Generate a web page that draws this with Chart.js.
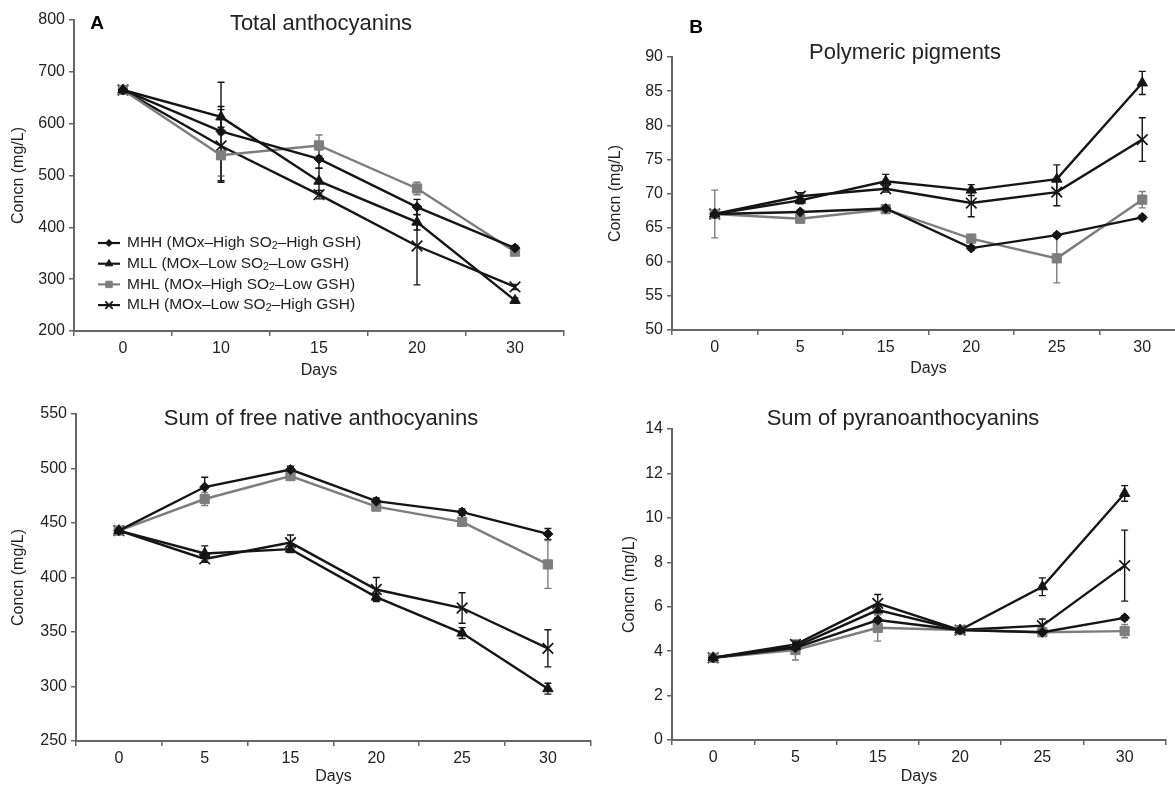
<!DOCTYPE html>
<html>
<head>
<meta charset="utf-8">
<title>Anthocyanins</title>
<script src="https://cdn.jsdelivr.net/npm/chart.js@4.4.1/dist/chart.umd.min.js"></script>
<style>
  html, body { margin: 0; padding: 0; background: #fff; width: 1175px; height: 786px; overflow: hidden; }
  canvas { position: absolute; }
</style>
</head>
<body>
<canvas id="chartA" style="left:0px;top:0px;width:590px;height:390px" width="590" height="390"></canvas>
<canvas id="chartB" style="left:585px;top:0px;width:610px;height:390px" width="610" height="390"></canvas>
<canvas id="chartC" style="left:0px;top:390px;width:600px;height:396px" width="600" height="396"></canvas>
<canvas id="chartD" style="left:585px;top:390px;width:590px;height:396px" width="590" height="396"></canvas>
<script>
// ---------------- data ----------------
const seriesNames = [
  'MHH (MOx–High SO₂–High GSH)',
  'MLL (MOx–Low SO₂–Low GSH)',
  'MHL (MOx–High SO₂–Low GSH)',
  'MLH (MOx–Low SO₂–High GSH)'
];

const daysA = ['0', '10', '15', '20', '30'];
const days = ['0', '5', '15', '20', '25', '30'];

// A - total anthocyanins
const totalMHH = [665, 585, 532, 439, 360];
const totalMLL = [665, 613, 489, 410, 259];
const totalMHL = [665, 539, 558, 475, 353];
const totalMLH = [665, 557, 463, 364, 285];
const totalErrMHH = [8, 95, 18, 15, 5];
const totalErrMLL = [8, 20, 25, 15, 5];
const totalErrMHL = [8, 40, 20, 12, 5];
const totalErrMLH = [8, 70, 8, 75, 5];

// B - polymeric pigments
const polyMHH = [67, 67.3, 67.8, 62.0, 63.9, 66.5];
const polyMLL = [67, 69.0, 71.8, 70.5, 72.1, 86.2];
const polyMHL = [67, 66.3, 67.7, 63.4, 60.5, 69.1];
const polyMLH = [67, 69.6, 70.7, 68.6, 70.2, 77.9];
const polyErrMHH = [0.4, 0.3, 0.3, 0.3, 0.3, 0.3];
const polyErrMLL = [0.4, 0.5, 1.0, 0.8, 2.1, 1.7];
const polyErrMHL = [3.5, 0.3, 0.3, 0.4, 3.6, 1.2];
const polyErrMLH = [0.4, 0.5, 0.5, 2.0, 2.0, 3.2];

// C - sum of free native anthocyanins
const nativeMHH = [443, 483, 499, 470, 460, 440];
const nativeMLL = [443, 422, 426, 382, 349, 298];
const nativeMHL = [443, 472, 493, 465, 451, 412];
const nativeMLH = [443, 417, 432, 389, 372, 335];
const nativeErrMHH = [2, 9, 3, 3, 3, 5];
const nativeErrMLL = [2, 7, 3, 3, 5, 5];
const nativeErrMHL = [2, 6, 3, 3, 4, 22];
const nativeErrMLH = [2, 3, 7, 11, 14, 17];

// D - sum of pyranoanthocyanins
const pyranoMHH = [3.7, 4.15, 5.4, 4.95, 4.85, 5.5];
const pyranoMLL = [3.7, 4.2, 5.85, 4.95, 6.9, 11.1];
const pyranoMHL = [3.7, 4.05, 5.05, 4.95, 4.85, 4.9];
const pyranoMLH = [3.7, 4.3, 6.15, 4.95, 5.15, 7.85];
const pyranoErrMHH = [0.1, 0.1, 0.1, 0.1, 0.1, 0.1];
const pyranoErrMLL = [0.1, 0.15, 0.2, 0.1, 0.4, 0.35];
const pyranoErrMHL = [0.1, 0.45, 0.6, 0.1, 0.1, 0.3];
const pyranoErrMLH = [0.1, 0.15, 0.4, 0.1, 0.3, 1.6];

// ---------------- styles ----------------
const FONT = '"Liberation Sans", Arial, Helvetica, sans-serif';
const TEXT = '#222';
const AXIS = '#666';

const seriesStyles = [
  { color: '#151515', pointStyle: 'rectRot', radius: 5, pointBorderWidth: 1 },
  { color: '#151515', pointStyle: 'triangle', radius: 6, pointBorderWidth: 1 },
  { color: '#7d7d7d', pointStyle: 'rect', radius: 6.5, pointBorderWidth: 1 },
  { color: '#151515', pointStyle: 'crossRot', radius: 7.5, pointBorderWidth: 1.7 }
];

function makeDatasets(valueLists, errorLists) {
  return valueLists.map((vals, i) => {
    const st = seriesStyles[i];
    return {
      label: seriesNames[i],
      data: vals,
      errors: errorLists[i],
      borderColor: st.color,
      backgroundColor: st.color,
      borderWidth: 2.4,
      tension: 0,
      pointStyle: st.pointStyle,
      pointRadius: st.radius,
      pointBackgroundColor: st.color,
      pointBorderColor: st.color,
      pointBorderWidth: st.pointBorderWidth
    };
  });
}

// ---------------- plugins ----------------
const errorBars = {
  id: 'errorBars',
  beforeDatasetsDraw(chart) {
    const ctx = chart.ctx;
    const yScale = chart.scales.y;
    chart.data.datasets.forEach((ds, i) => {
      const meta = chart.getDatasetMeta(i);
      ctx.save();
      ctx.strokeStyle = ds.borderColor;
      ctx.lineWidth = 1.4;
      meta.data.forEach((pt, j) => {
        const e = ds.errors[j];
        if (!e) return;
        const v = ds.data[j];
        const yTop = yScale.getPixelForValue(v + e);
        const yBot = yScale.getPixelForValue(v - e);
        ctx.beginPath();
        ctx.moveTo(pt.x, yTop); ctx.lineTo(pt.x, yBot);
        ctx.moveTo(pt.x - 3.5, yTop); ctx.lineTo(pt.x + 3.5, yTop);
        ctx.moveTo(pt.x - 3.5, yBot); ctx.lineTo(pt.x + 3.5, yBot);
        ctx.stroke();
      });
      ctx.restore();
    });
  }
};

const panelText = {
  id: 'panelText',
  afterDraw(chart, args, opts) {
    const ctx = chart.ctx;
    ctx.save();
    ctx.fillStyle = TEXT;
    ctx.textAlign = 'center';
    ctx.textBaseline = 'middle';
    ctx.font = `22px ${FONT}`;
    ctx.fillText(opts.title, opts.titleX, opts.titleY);
    if (opts.letter) {
      ctx.fillStyle = '#000';
      ctx.font = `bold 19px ${FONT}`;
      ctx.fillText(opts.letter, opts.letterX, opts.letterY);
    }
    ctx.restore();
  }
};

const insetLegend = {
  id: 'insetLegend',
  afterDraw(chart, args, opts) {
    if (!opts.show) return;
    const ctx = chart.ctx;
    chart.data.datasets.forEach((ds, i) => {
      const y = opts.y + i * opts.rowGap;
      ctx.save();
      ctx.strokeStyle = ds.borderColor;
      ctx.lineWidth = 2.2;
      ctx.beginPath();
      ctx.moveTo(opts.x, y);
      ctx.lineTo(opts.x + 22, y);
      ctx.stroke();
      ctx.fillStyle = ds.pointBackgroundColor;
      ctx.strokeStyle = ds.pointBorderColor;
      ctx.lineWidth = ds.pointBorderWidth;
      Chart.helpers.drawPoint(ctx, {
        pointStyle: ds.pointStyle,
        radius: ds.pointRadius * 0.7,
        rotation: 0,
        borderWidth: ds.pointBorderWidth
      }, opts.x + 11, y);
      ctx.fillStyle = TEXT;
      ctx.textAlign = 'left';
      ctx.textBaseline = 'middle';
      let tx = opts.x + 29;
      const parts = ds.label.split('₂');
      parts.forEach((p, k) => {
        ctx.font = `15.5px ${FONT}`;
        ctx.fillText(p, tx, y);
        tx += ctx.measureText(p).width;
        if (k < parts.length - 1) {
          ctx.font = `10.5px ${FONT}`;
          ctx.fillText('2', tx, y + 3);
          tx += ctx.measureText('2').width;
        }
      });
      ctx.restore();
    });
  }
};

// ---------------- charts ----------------
function createPanel(id, p) {
  const tickFont = { family: FONT, size: 16 };
  return new Chart(document.getElementById(id), {
    type: 'line',
    data: { labels: p.labels, datasets: makeDatasets(p.values, p.errors) },
    plugins: [errorBars, panelText, insetLegend],
    options: {
      responsive: false,
      animation: false,
      layout: { padding: { left: 0, top: p.top, right: p.right, bottom: 0 } },
      scales: {
        x: {
          type: 'category',
          offset: true,
          grid: { display: true, drawOnChartArea: false, offset: true, tickLength: 5, color: AXIS, lineWidth: 1.5 },
          border: { color: AXIS, width: 2 },
          ticks: { font: tickFont, color: TEXT, padding: 3, maxRotation: 0, autoSkip: false },
          title: { display: true, text: 'Days', font: tickFont, color: TEXT, padding: { top: 0, bottom: p.daysPad } },
          afterFit: s => { s.height = p.xHeight; }
        },
        y: {
          min: p.min,
          max: p.max,
          ticks: { stepSize: p.step, font: tickFont, color: TEXT, padding: 4 },
          grid: { display: true, drawOnChartArea: false, tickLength: 5, color: AXIS, lineWidth: 1.5 },
          border: { color: AXIS, width: 2 },
          title: { display: true, text: 'Concn (mg/L)', font: tickFont, color: TEXT, padding: { top: p.concPad, bottom: 0 } },
          afterFit: s => { s.width = p.yWidth; }
        }
      },
      plugins: {
        legend: { display: false },
        tooltip: { enabled: false },
        panelText: p.text,
        insetLegend: p.legend || { show: false }
      }
    }
  });
}

createPanel('chartA', {
  labels: daysA,
  values: [totalMHH, totalMLL, totalMHL, totalMLH],
  errors: [totalErrMHH, totalErrMLL, totalErrMHL, totalErrMLH],
  min: 200, max: 800, step: 100,
  top: 20, right: 26, yWidth: 74, xHeight: 59, concPad: 9, daysPad: 10,
  text: { title: 'Total anthocyanins', titleX: 321, titleY: 24, letter: 'A', letterX: 97, letterY: 24 },
  legend: { show: true, x: 98, y: 243, rowGap: 20.7 }
});

createPanel('chartB', {
  labels: days,
  values: [polyMHH, polyMLL, polyMHL, polyMLH],
  errors: [polyErrMHH, polyErrMLL, polyErrMHL, polyErrMLH],
  min: 50, max: 90, step: 5,
  top: 57, right: 10, yWidth: 87, xHeight: 60, concPad: 21, daysPad: 12,
  text: { title: 'Polymeric pigments', titleX: 320, titleY: 53, letter: 'B', letterX: 111, letterY: 28 }
});

createPanel('chartC', {
  labels: days,
  values: [nativeMHH, nativeMLL, nativeMHL, nativeMLH],
  errors: [nativeErrMHH, nativeErrMLL, nativeErrMHL, nativeErrMLH],
  min: 250, max: 550, step: 50,
  top: 24, right: 5, yWidth: 76, xHeight: 45, concPad: 9, daysPad: 0,
  text: { title: 'Sum of free native anthocyanins', titleX: 321, titleY: 29 }
});

createPanel('chartD', {
  labels: days,
  values: [pyranoMHH, pyranoMLL, pyranoMHL, pyranoMLH],
  errors: [pyranoErrMHH, pyranoErrMLL, pyranoErrMHL, pyranoErrMLH],
  min: 0, max: 14, step: 2,
  top: 39, right: 7, yWidth: 87, xHeight: 46, concPad: 35, daysPad: 0,
  text: { title: 'Sum of pyranoanthocyanins', titleX: 318, titleY: 29 }
});
</script>
</body>
</html>
